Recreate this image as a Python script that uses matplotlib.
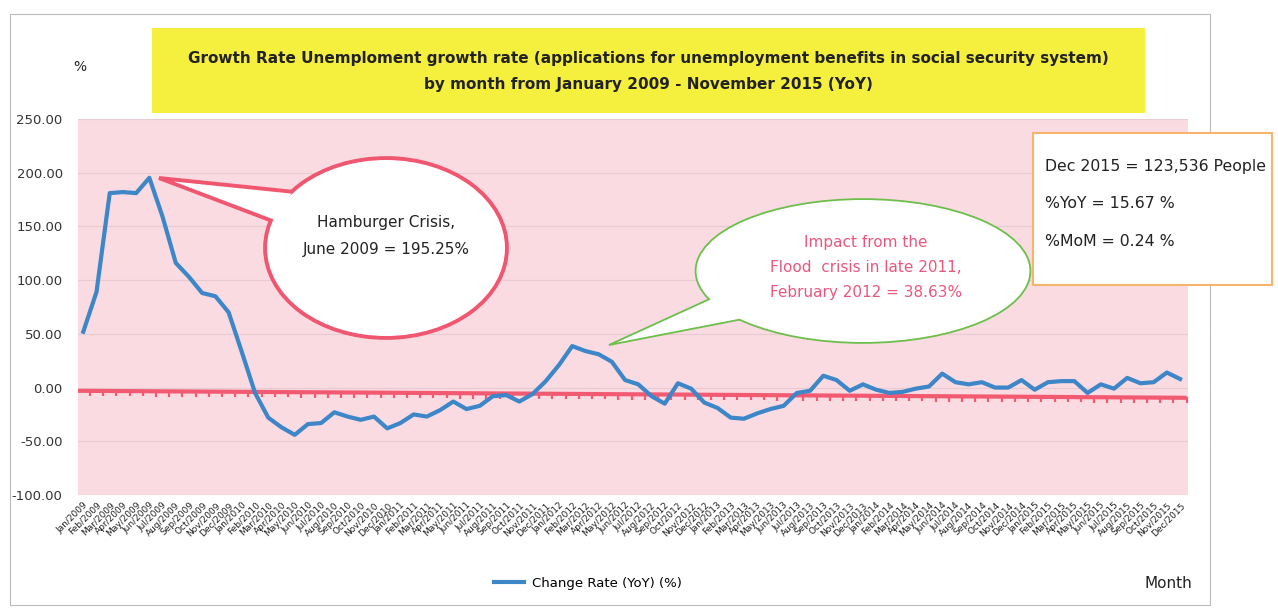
import matplotlib
matplotlib.use('Agg')
from matplotlib import pyplot as plt
from matplotlib.patches import Ellipse, Polygon, Rectangle
import matplotlib.transforms as mtransforms
import numpy as np

plt.rcParams['font.family'] = ['DejaVu Sans']

# data
month_names = ['Jan', 'Feb', 'Mar', 'Apr', 'May', 'Jun',
               'Jul', 'Aug', 'Sep', 'Oct', 'Nov', 'Dec']
years = [2009, 2010, 2011, 2012, 2013, 2014, 2015]
labels = [f'{m}/{y}' for y in years for m in month_names]

change_rate = [
    52, 89, 181, 182, 181, 195.25, 159, 116, 103, 88, 85, 70,      # 2009
    33, -5, -28, -37, -44, -34, -33, -23, -27, -30, -27, -38,      # 2010
    -33, -25, -27, -21, -13, -20, -17, -8, -7, -13, -6, 6,         # 2011
    21, 38.63, 34, 31, 24, 7, 3, -8, -15, 4, -1, -14,              # 2012
    -19, -28, -29, -24, -20, -17, -5, -3, 11, 7, -3, 3,            # 2013
    -2, -5, -4, -1, 1, 13, 5, 3, 5, 0, 0, 7,                       # 2014
    -2, 5, 6, 6, -5, 3, -1, 9, 4, 5, 14, 8,                        # 2015
]
trend_start = -3.0
trend_end = -9.5

yticks = [-100, -50, 0, 50, 100, 150, 200, 250]

W, H = 1278, 609
fig = plt.figure(figsize=(W / 100, H / 100), dpi=100)
fig.patch.set_facecolor('white')
# pixel coords from top-left
px = mtransforms.Affine2D().scale(1 / W, -1 / H).translate(0, 1) + fig.transFigure

ax = fig.add_axes([78 / W, 1 - 495 / H, (1188 - 78) / W, (495 - 119) / H])
ax.set_facecolor('#fadbe2')

x = np.arange(len(change_rate))
ax.plot(x, change_rate, color='#3d86c8', lw=3, zorder=4, solid_joinstyle='round',
        label='Change Rate (YoY) (%)')

# red reference line with little ticks under it
trend = np.linspace(trend_start, trend_end, len(x))
ax.plot([x[0] - 0.4, x[-1] + 0.4], [trend_start, trend_end], color='#f25a72', lw=3, zorder=3,
        solid_capstyle='round')
ax.plot(x + 0.5, trend - 2.2, ls='none', marker='|', ms=4, mew=1.6, color='#f25a72', zorder=3)

ax.set_xlim(-0.4, len(x) - 0.4)
ax.set_ylim(-100, 250)
ax.set_yticks(yticks)
ax.set_yticklabels([f'{v:.2f}' for v in yticks], fontsize=9.5, color='#333333')
ax.set_xticks(x)
ax.set_xticklabels(labels, rotation=45, ha='right', rotation_mode='anchor',
                   fontsize=6.5, color='#222222')
ax.tick_params(axis='both', length=0)
ax.tick_params(axis='x', pad=4)
ax.tick_params(axis='y', pad=11)
ax.grid(axis='y', color='#e6ccd2', lw=0.9)
ax.set_axisbelow(True)
for s in ax.spines.values():
    s.set_visible(False)

# outer frame
fig.patches.append(Rectangle((10, 14), 1200, 591, transform=px, fill=False,
                             ec='#bbbbbb', lw=0.8, zorder=0))

# title box
fig.patches.append(Rectangle((152, 28), 993, 85, transform=px, fc='#f5ef3d',
                             ec='none', zorder=1))
fig.text(648 / W, 1 - 59 / H,
         'Growth Rate Unemploment growth rate (applications for unemployment benefits in social security system)',
         ha='center', va='center', fontsize=11, fontweight='bold', color='#222222')
fig.text(648 / W, 1 - 84 / H, 'by month from January 2009 - November 2015 (YoY)',
         ha='center', va='center', fontsize=11, fontweight='bold', color='#222222')
fig.text(80 / W, 1 - 67 / H, '%', ha='center', va='center', fontsize=10, color='#222222')


def callout(center, size, tail, edge, lw):
    e1 = Ellipse(center, size[0], size[1], transform=px, fc='white', ec=edge,
                 lw=lw * 2, zorder=5)
    t = Polygon(tail, closed=True, transform=px, fc='white', ec=edge, lw=lw,
                joinstyle='miter', zorder=6)
    e2 = Ellipse(center, size[0], size[1], transform=px, fc='white', ec='none', zorder=7)
    for p in (e1, t, e2):
        fig.patches.append(p)


# Hamburger crisis callout
callout((386, 248), (238, 176), [(295, 192), (159, 178), (275, 222)], '#f0566f', 2.8)
fig.text(386 / W, 1 - 222 / H, 'Hamburger Crisis,', ha='center', va='center',
         fontsize=11, color='#222222', zorder=8)
fig.text(386 / W, 1 - 250 / H, 'June 2009 = 195.25%', ha='center', va='center',
         fontsize=11, color='#222222', zorder=8)

# Flood crisis callout
callout((863, 271), (333, 142), [(714, 297), (609, 345), (748, 318)], '#6cbf4a', 1.3)
flood_lines = ['Impact from the', 'Flood  crisis in late 2011,', 'February 2012 = 38.63%']
for i, s in enumerate(flood_lines):
    fig.text(866 / W, 1 - (242 + 25.5 * i) / H, s, ha='center', va='center',
             fontsize=11, color='#e9577f', zorder=8)

# info box
fig.patches.append(Rectangle((1033, 133), 239, 152, transform=px, fc='white',
                             ec='#f6b46c', lw=1.5, zorder=5))
info = ['Dec 2015 = 123,536 People', '%YoY = 15.67 %', '%MoM = 0.24 %']
for s, yy in zip(info, [166, 204, 242]):
    fig.text(1045 / W, 1 - yy / H, s, ha='left', va='center', fontsize=11.3,
             color='#222222', zorder=8)

# legend and axis name
fig.legend(loc='center left', bbox_to_anchor=(482 / W, 1 - 583 / H), frameon=False,
           fontsize=9.5, handlelength=2.3, handletextpad=0.6)
fig.text(1145 / W, 1 - 583 / H, 'Month', ha='left', va='center', fontsize=11,
         color='#222222')

fig.savefig('out.png', dpi=100)
